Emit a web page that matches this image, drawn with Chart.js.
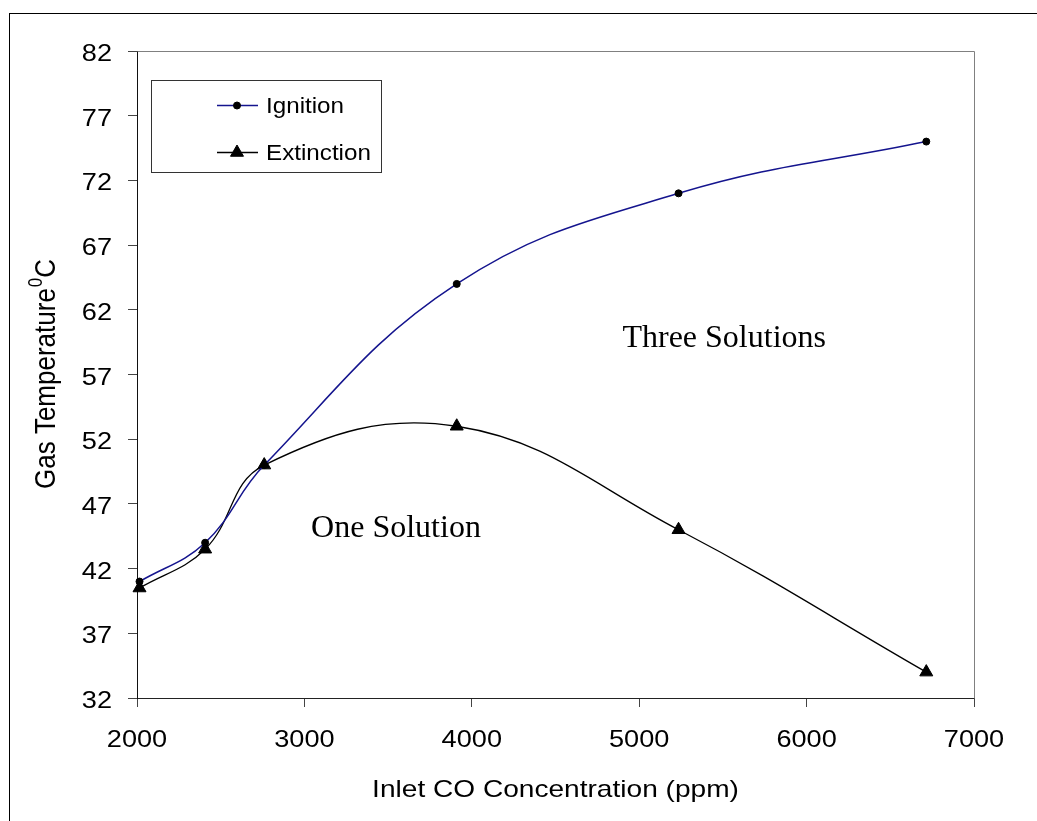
<!DOCTYPE html>
<html>
<head>
<meta charset="utf-8">
<script src="https://cdn.jsdelivr.net/npm/chart.js@4/dist/chart.umd.min.js"></script>
<style>
  html, body { margin: 0; padding: 0; background: #fff; }
  canvas { display: block; }
</style>
</head>
<body>
<canvas id="chart" width="1037" height="821"></canvas>
<script>
// Inlet CO concentration (ppm) at each computed point
const concentration = [2015, 2407, 2760, 3910, 5235, 6715];
// Gas temperature (deg C) at ignition and at extinction
const ignition = [41, 44, 50, 64, 71, 75];
const extinction = [40.5, 43.5, 50, 53, 45, 34];
// Axis tick labels
const xTickValues = [2000, 3000, 4000, 5000, 6000, 7000];
const yTickValues = [32, 37, 42, 47, 52, 57, 62, 67, 72, 77, 82];
const seriesNames = ['Ignition', 'Extinction'];
const xTitle = 'Inlet CO Concentration (ppm)';
const yTitleMain = 'Gas Temperature';
const yTitleSup = '0';
const yTitleUnit = 'C';
const regionLabels = ['Three Solutions', 'One Solution'];

const SANS = '"Liberation Sans", Arial, sans-serif';
const SERIF = '"Liberation Serif", "Times New Roman", serif';

// text drawn slightly widened, as in the original Excel export
function wideText(ctx, str, x, y, font, sx, align, baseline) {
  ctx.save();
  ctx.font = font;
  ctx.fillStyle = '#000';
  ctx.textBaseline = baseline || 'alphabetic';
  const w = ctx.measureText(str).width * sx;
  let dx = 0;
  if (align === 'center') dx = -w / 2;
  else if (align === 'right') dx = -w;
  ctx.translate(x + dx, y);
  ctx.scale(sx, 1);
  ctx.textAlign = 'left';
  ctx.fillText(str, 0, 0);
  ctx.restore();
  return w;
}

const decorations = {
  id: 'decorations',
  beforeDraw(chart) {
    const ctx = chart.ctx;
    ctx.save();
    ctx.fillStyle = '#fff';
    ctx.fillRect(0, 0, chart.width, chart.height);
    // outer chart frame
    ctx.strokeStyle = '#000';
    ctx.lineWidth = 1;
    ctx.strokeRect(9.5, 13.5, 1100, 900);
    ctx.restore();
  },
  beforeDatasetsDraw(chart) {
    const ctx = chart.ctx;
    const a = chart.chartArea;
    ctx.save();
    ctx.strokeStyle = '#808080';
    ctx.lineWidth = 1;
    ctx.beginPath();
    ctx.moveTo(Math.round(a.left) + 0.5, Math.round(a.top) + 0.5);
    ctx.lineTo(Math.round(a.right) + 0.5, Math.round(a.top) + 0.5);
    ctx.lineTo(Math.round(a.right) + 0.5, Math.round(a.bottom) + 0.5);
    ctx.stroke();
    ctx.restore();
  },
  afterDraw(chart) {
    const ctx = chart.ctx;
    const xs = chart.scales.x, ys = chart.scales.y;

    // tick labels
    xs.ticks.forEach(t => {
      wideText(ctx, String(t.value), xs.getPixelForValue(t.value), 747,
        '23px ' + SANS, 1.18, 'center');
    });
    ys.ticks.forEach(t => {
      wideText(ctx, String(t.value), 112, ys.getPixelForValue(t.value) + 10,
        '23px ' + SANS, 1.18, 'right');
    });

    // x axis title
    wideText(ctx, xTitle, (chart.chartArea.left + chart.chartArea.right) / 2, 797,
      '24px ' + SANS, 1.17, 'center');

    // y axis title, reading upward, with superscript degree mark
    ctx.save();
    ctx.translate(55, 489);
    ctx.rotate(-Math.PI / 2);
    ctx.scale(1, 1.15);
    ctx.fillStyle = '#000';
    ctx.textBaseline = 'alphabetic';
    ctx.font = '26px ' + SANS;
    ctx.fillText(yTitleMain, 0, 0);
    let w = ctx.measureText(yTitleMain).width;
    ctx.font = '17px ' + SANS;
    ctx.fillText(yTitleSup, w + 1, -11);
    w += ctx.measureText(yTitleSup).width + 1;
    ctx.font = '26px ' + SANS;
    ctx.fillText(yTitleUnit, w, 0);
    ctx.restore();

    // region annotations
    wideText(ctx, regionLabels[0], xs.getPixelForValue(4900), ys.getPixelForValue(59.14),
      '32px ' + SERIF, 1.0, 'left');
    wideText(ctx, regionLabels[1], xs.getPixelForValue(3040), ys.getPixelForValue(44.47),
      '32px ' + SERIF, 1.0, 'left');

    // legend box
    ctx.save();
    ctx.fillStyle = '#fff';
    ctx.fillRect(151.5, 80.5, 230, 92);
    ctx.strokeStyle = '#333';
    ctx.lineWidth = 1;
    ctx.strokeRect(151.5, 80.5, 230, 92);
    const rowsY = [105, 152];
    chart.data.datasets.forEach((ds, i) => {
      const y = rowsY[i];
      ctx.strokeStyle = ds.borderColor;
      ctx.lineWidth = ds.borderWidth;
      ctx.beginPath();
      ctx.moveTo(217, y + 0.5);
      ctx.lineTo(258, y + 0.5);
      ctx.stroke();
      ctx.fillStyle = ds.pointBackgroundColor;
      ctx.strokeStyle = ds.pointBorderColor;
      ctx.lineWidth = 1;
      Chart.helpers.drawPoint(ctx, {
        pointStyle: ds.pointStyle, radius: ds.pointRadius, rotation: 0, borderWidth: 1
      }, 237, y + 0.5);
      wideText(ctx, ds.label, 266, y + 8, '22px ' + SANS, 1.1, 'left');
    });
    ctx.restore();
  }
};

const toPoints = ys => concentration.map((x, i) => ({ x: x, y: ys[i] }));

new Chart(document.getElementById('chart'), {
  type: 'line',
  data: {
    datasets: [
      {
        label: seriesNames[0],
        data: toPoints(ignition),
        borderColor: '#14148e',
        borderWidth: 1.5,
        pointStyle: 'circle',
        pointRadius: 3.5,
        pointBackgroundColor: '#000',
        pointBorderColor: '#000',
        pointBorderWidth: 1,
        tension: 0.4,
        clip: false
      },
      {
        label: seriesNames[1],
        data: toPoints(extinction),
        borderColor: '#000',
        borderWidth: 1.3,
        pointStyle: 'triangle',
        pointRadius: 7.5,
        pointBackgroundColor: '#000',
        pointBorderColor: '#000',
        pointBorderWidth: 1,
        tension: 0.4,
        clip: false
      }
    ]
  },
  options: {
    responsive: false,
    animation: false,
    devicePixelRatio: 1,
    layout: { padding: { top: 51, right: 63, left: 0, bottom: 0 } },
    plugins: { legend: { display: false }, tooltip: { enabled: false } },
    scales: {
      x: {
        type: 'linear',
        min: 2000,
        max: 7000,
        afterBuildTicks: s => { s.ticks = xTickValues.map(v => ({ value: v })); },
        afterFit: s => { s.height = 123; },
        ticks: { display: false },
        grid: { drawOnChartArea: false, drawTicks: true, tickLength: 9, color: '#444' },
        border: { display: true, color: '#222', width: 1 }
      },
      y: {
        type: 'linear',
        min: 32,
        max: 82,
        afterBuildTicks: s => { s.ticks = yTickValues.map(v => ({ value: v })); },
        afterFit: s => { s.width = 137; },
        ticks: { display: false },
        grid: { drawOnChartArea: false, drawTicks: true, tickLength: 9, color: '#444' },
        border: { display: true, color: '#111', width: 1 }
      }
    }
  },
  plugins: [decorations]
});
</script>
</body>
</html>
